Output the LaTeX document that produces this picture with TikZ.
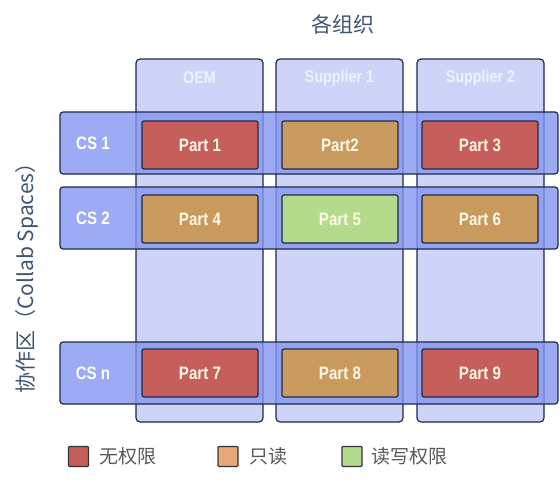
\documentclass[tikz,border=0pt]{standalone}
\usepackage{fontspec}
\setmainfont{Liberation Sans}
\newfontfamily\cjk{Noto Sans CJK SC}
\newfontfamily\narrowbf[FakeStretch=0.84]{Liberation Sans Bold}
\definecolor{edge}{HTML}{1C2A48}
\definecolor{colfill}{HTML}{C4CCF6}
\definecolor{rowfill}{HTML}{8396F0}
\definecolor{noperm}{HTML}{C65E5C}
\definecolor{readonly}{HTML}{C99A5E}
\definecolor{readwrite}{HTML}{B4DA8C}
\definecolor{legro}{HTML}{E9A679}
\definecolor{lbltext}{HTML}{3E5571}
\definecolor{parttext}{HTML}{FFFAE6}
\begin{document}
\begin{tikzpicture}[x=1pt,y=-1pt,
  orgcol/.style={draw=edge,line width=1.2pt,fill=colfill,fill opacity=0.85,draw opacity=1,rounded corners=4pt,minimum width=127pt,minimum height=363pt,inner sep=0pt},
  csrow/.style={draw=edge,line width=1.2pt,fill=rowfill,fill opacity=0.8,draw opacity=1,rounded corners=3pt,minimum width=498pt,minimum height=62pt,inner sep=0pt},
  partbox/.style={draw=edge,line width=1.2pt,rounded corners=2pt,minimum width=116pt,minimum height=48pt,inner sep=0pt,font=\narrowbf\fontsize{18}{18}\selectfont,text=parttext},
  colhead/.style={font=\narrowbf\fontsize{17}{17}\selectfont,text=white,text opacity=0.7},
  cslabel/.style={font=\narrowbf\fontsize{18}{18}\selectfont,text=white},
  legsq/.style={draw=black!80,line width=1.2pt,rounded corners=1pt,minimum width=20pt,minimum height=20pt,inner sep=0pt},
  legtext/.style={font=\cjk\fontsize{19}{19}\selectfont,text=black!65,anchor=west},
  axistext/.style={font=\cjk\fontsize{21}{21}\selectfont,text=lbltext}]
\useasboundingbox (0,0) rectangle (560,482);
% title
\node[axistext] (title) at (343,24) {各组织};
\node[axistext,rotate=90] (side) at (27,273) {协作区（Collab Spaces）};
% columns
\node[orgcol] (c1) at (199.5,240.5) {};
\node[orgcol] (c2) at (339.5,240.5) {};
\node[orgcol] (c3) at (480.5,240.5) {};
\node[colhead] (h1) at (199.5,78) {OEM};
\node[colhead] (h2) at (339.5,78) {Supplier 1};
\node[colhead] (h3) at (480.5,78) {Supplier 2};
% rows
\node[csrow] (r1) at (309,143) {};
\node[csrow] (r2) at (309,218) {};
\node[csrow] (r3) at (309,373) {};
\node[cslabel] (l1) at (93,143) {CS 1};
\node[cslabel] (l2) at (93,218) {CS 2};
\node[cslabel] (l3) at (93,373) {CS n};
% parts
\node[partbox,fill=noperm] (p1) at (200,145) {Part 1};
\node[partbox,fill=readonly] (p2) at (340,145) {Part2};
\node[partbox,fill=noperm] (p3) at (480,145) {Part 3};
\node[partbox,fill=readonly] (p4) at (200,219) {Part 4};
\node[partbox,fill=readwrite] (p5) at (340,219) {Part 5};
\node[partbox,fill=readonly] (p6) at (480,219) {Part 6};
\node[partbox,fill=noperm] (p7) at (200,373) {Part 7};
\node[partbox,fill=readonly] (p8) at (340,373) {Part 8};
\node[partbox,fill=noperm] (p9) at (480,373) {Part 9};
% legend
\node[legsq,fill=noperm] (s1) at (78.5,456.5) {};
\node[legtext] (t1) at (96,456.5) {无权限};
\node[legsq,fill=legro] (s2) at (228,456.5) {};
\node[legtext] (t2) at (246,456.5) {只读};
\node[legsq,fill=readwrite] (s3) at (352,456.5) {};
\node[legtext] (t3) at (368,456.5) {读写权限};
\end{tikzpicture}
\end{document}
